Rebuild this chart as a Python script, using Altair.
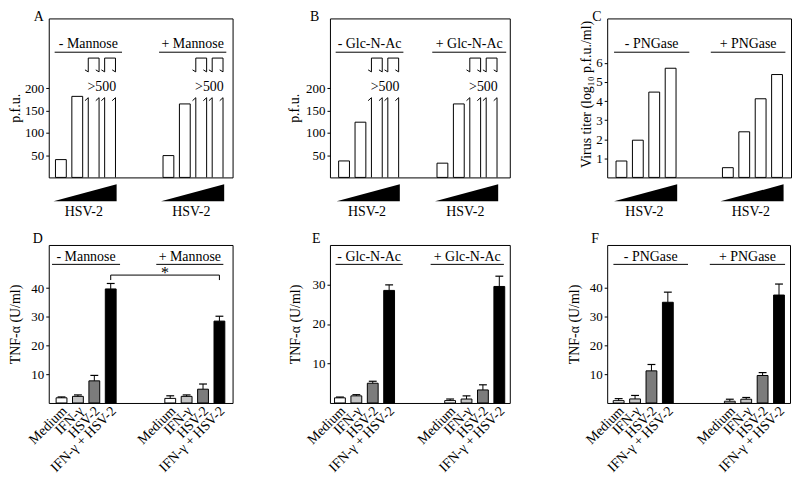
import altair as alt
import pandas as pd

FONT = "Liberation Serif"

# ---------------- data ----------------
# Top row: plaque assay, four increasing HSV-2 inputs per condition
A_GROUPS = ["- Mannose", "+ Mannose"]
A_MINUS = [40, 182, None, None]          # None = off scale (">500"), drawn as broken bar
A_PLUS = [49, 165, None, None]
B_GROUPS = ["- Glc-N-Ac", "+ Glc-N-Ac"]
B_MINUS = [37, 124, None, None]
B_PLUS = [32, 165, None, None]
C_GROUPS = ["- PNGase", "+ PNGase"]
C_MINUS = [0.86, 1.95, 4.47, 5.72]
C_PLUS = [0.51, 2.39, 4.12, 5.39]
OFF_SCALE_TEXT = ">500"
DOSE_TEXT = "HSV-2"

# Bottom row: TNF-alpha (U/ml), mean and upper error
TREATMENTS = ["Medium", "IFN-γ", "HSV-2", "IFN-γ + HSV-2"]
TREAT_FILLS = ["#ffffff", "#c4c4c4", "#7c7c7c", "#000000"]
D_GROUPS = ["- Mannose", "+ Mannose"]
D_MINUS = [1.8, 2.3, 7.7, 39.7]
D_MINUS_ERR = [0.3, 0.5, 1.9, 1.9]
D_PLUS = [1.6, 2.3, 4.8, 28.5]
D_PLUS_ERR = [0.9, 0.5, 1.8, 1.7]
E_GROUPS = ["- Glc-N-Ac", "+ Glc-N-Ac"]
E_MINUS = [1.3, 1.8, 5.0, 28.5]
E_MINUS_ERR = [0.2, 0.3, 0.5, 1.4]
E_PLUS = [0.6, 1.0, 3.3, 29.5]
E_PLUS_ERR = [0.4, 0.8, 1.3, 2.6]
F_GROUPS = ["- PNGase", "+ PNGase"]
F_MINUS = [0.8, 1.4, 11.1, 34.8]
F_MINUS_ERR = [0.7, 1.2, 2.2, 3.5]
F_PLUS = [0.6, 1.3, 9.5, 37.3]
F_PLUS_ERR = [0.7, 0.6, 1.0, 3.8]
SIGNIF_TEXT = "*"

# ---------------- layout ----------------
SLOT = 16.5      # px between neighbouring bars
HW = 0.33        # bar half width (slots)
CAP = 0.24       # error cap half width (slots)
BREAK_LOW, STUB_BOTTOM, STUB_TOP = 179, 237, 268   # broken-bar levels (p.f.u. axis)

PANELS = {
    "A": dict(w=185, h=160, ymax=357, starts=[0.74, 7.30], rules=[(0.36, 4.47), (6.73, 10.83)],
              ytitle="p.f.u.", yvals=[50, 100, 150, 200], tx=-26, ty=90, ldx=-15),
    "B": dict(w=181, h=160, ymax=357, starts=[0.86, 6.86], rules=[(0.35, 4.48), (6.24, 10.75)],
              ytitle="p.f.u.", yvals=[50, 100, 150, 200], tx=-29, ty=90, ldx=-20),
    "C": dict(w=185, h=160, ymax=8.33, starts=[0.87, 7.36], rules=[(0.42, 5.01), (6.32, 10.87)],
              ytitle="Virus titer (log₁₀ p.f.u./ml)", yvals=[1, 2, 3, 4, 5, 6], tx=-14, ty=76, ldx=-15),
    "D": dict(w=185, h=159, ymax=55, starts=[0.78, 7.41], rules=[(0.20, 4.35), (6.56, 10.65)],
              ytitle="TNF-α (U/ml)", yvals=[10, 20, 30, 40], tx=-26, ty=79.5, ldx=-16),
    "E": dict(w=181, h=159, ymax=40, starts=[0.61, 7.33], rules=[(0.34, 4.44), (6.14, 10.61)],
              ytitle="TNF-α (U/ml)", yvals=[10, 20, 30], tx=-28, ty=79.5, ldx=-18),
    "F": dict(w=184, h=159, ymax=54.6, starts=[0.70, 7.48], rules=[(0.38, 4.93), (6.26, 10.85)],
              ytitle="TNF-α (U/ml)", yvals=[10, 20, 30, 40], tx=-26, ty=79.5, ldx=-16),
}


def panel(key, groups, series, errs=None, fills=None, signif=None, row=0):
    p = PANELS[key]
    xs = alt.Scale(domain=[0, p["w"] / SLOT], nice=False, zero=False)
    ys = alt.Scale(domain=[0, p["ymax"]], nice=False, zero=False)
    yaxis = alt.Axis(values=p["yvals"], domain=False, grid=False, ticks=True, tickSize=3,
                     tickColor="black", labelFont=FONT, labelFontSize=13, labelColor="black",
                     labelPadding=2, title=p["ytitle"], titleFont=FONT, titleFontSize=14,
                     titleFontWeight="normal", titleColor="black", titleX=p["tx"], titleY=p["ty"],
                     titleAngle=270, titleAlign="center", titleBaseline="bottom")

    def X(f):
        return alt.X(f, type="quantitative", scale=xs, axis=None)

    def Y(f):
        return alt.Y(f, type="quantitative", scale=ys, axis=yaxis)

    per_px = p["ymax"] / p["h"]
    rows, broken = [], []
    for g, vals in enumerate(series):
        for i, v in enumerate(vals):
            c = p["starts"][g] + i
            if v is None:
                broken.append(c)
                continue
            rows.append(dict(g=g, i=i, c=c, x0=c - HW, x1=c + HW, v=v, base=0,
                             fill=fills[i] if fills else "#ffffff",
                             e=v + errs[g][i] if errs else v,
                             cl=c - CAP, cr=c + CAP, lx=c + 0.2, t=TREATMENTS[i]))
    bars = pd.DataFrame(rows)
    layers = [
        alt.Chart(bars).mark_bar(stroke="black", strokeWidth=1).encode(
            x=X("x0"), x2=alt.X2("x1"), y=Y("v"), y2=alt.Y2("base"),
            fill=alt.Fill("fill:N", scale=None))
    ]

    if errs:
        layers.append(alt.Chart(bars).mark_rule(color="black", strokeWidth=1).encode(
            x=X("c"), y=Y("v"), y2=alt.Y2("e")))
        layers.append(alt.Chart(bars).mark_rule(color="black", strokeWidth=1.2).encode(
            x=X("cl"), x2=alt.X2("cr"), y=Y("e")))

    if broken:
        segs = []
        for c in broken:
            for xe in (c - HW, c + HW):
                segs.append(dict(xa=xe, xb=xe, ya=0, yb=BREAK_LOW))
                segs.append(dict(xa=xe, xb=xe - 0.2, ya=BREAK_LOW, yb=BREAK_LOW - 3 * per_px))
                segs.append(dict(xa=xe, xb=xe, ya=STUB_BOTTOM, yb=STUB_TOP))
                segs.append(dict(xa=xe, xb=xe - 0.2, ya=STUB_BOTTOM, yb=STUB_BOTTOM + 2 * per_px))
            segs.append(dict(xa=c - HW, xb=c + HW, ya=STUB_TOP, yb=STUB_TOP))
        segs = pd.DataFrame(segs)
        layers.append(alt.Chart(segs).mark_rule(color="black", strokeWidth=1).encode(
            x=X("xa"), x2=alt.X2("xb"), y=Y("ya"), y2=alt.Y2("yb")))
        lab = pd.DataFrame([dict(c=(broken[k] + broken[k + 1]) / 2, t=OFF_SCALE_TEXT)
                            for k in range(0, len(broken), 2)])
        layers.append(alt.Chart(lab).mark_text(font=FONT, fontSize=14, color="black",
                                               baseline="alphabetic").encode(
            x=X("c"), y=alt.value(73), text="t:N"))

    # group headers with underline
    hy, uy = (30, 34) if row == 0 else (16, 19.5)
    hd = pd.DataFrame([dict(r0=r[0], r1=r[1], m=(r[0] + r[1]) / 2, t=groups[k])
                       for k, r in enumerate(p["rules"])])
    layers.append(alt.Chart(hd).mark_text(font=FONT, fontSize=14, color="black",
                                          baseline="alphabetic").encode(
        x=X("m"), y=alt.value(hy), text="t:N"))
    layers.append(alt.Chart(hd).mark_rule(color="black", strokeWidth=1).encode(
        x=X("r0"), x2=alt.X2("r1"), y=alt.value(uy)))

    if row == 0:
        wed = []
        for g in range(2):
            c0 = p["starts"][g]
            c3 = c0 + 3
            bot = -24 * per_px
            wed.append(dict(g=g, x=c0 - 0.45, y=bot, y2=bot))
            wed.append(dict(g=g, x=c3 + 0.4, y=-7 * per_px, y2=bot))
        wed = pd.DataFrame(wed)
        layers.append(alt.Chart(wed).mark_area(color="black", interpolate="linear").encode(
            x=X("x"), y=Y("y"), y2=alt.Y2("y2"), detail="g:N"))
        dl = pd.DataFrame([dict(m=p["starts"][g] + 1.4, t=DOSE_TEXT) for g in range(2)])
        layers.append(alt.Chart(dl).mark_text(font=FONT, fontSize=14, color="black",
                                              baseline="alphabetic").encode(
            x=X("m"), y=alt.value(p["h"] + 38.5), text="t:N"))
    else:
        layers.append(alt.Chart(bars).mark_text(font=FONT, fontSize=14, color="black",
                                                angle=315, align="right",
                                                baseline="middle").encode(
            x=X("lx"), y=alt.value(p["h"] + 6), text="t:N"))

    if signif:
        a = p["starts"][0] + 3
        b = p["starts"][1] + 3
        br = pd.DataFrame([dict(x0=a, x1=b, m=(a + b) / 2, t=signif)])
        drops = pd.DataFrame([dict(x=a), dict(x=b)])
        layers.append(alt.Chart(br).mark_rule(color="black", strokeWidth=1).encode(
            x=X("x0"), x2=alt.X2("x1"), y=alt.value(30.3)))
        layers.append(alt.Chart(drops).mark_rule(color="black", strokeWidth=1).encode(
            x=X("x"), y=alt.value(30.3), y2=alt.value(35.3)))
        layers.append(alt.Chart(br).mark_text(font=FONT, fontSize=16, color="black",
                                              baseline="alphabetic").encode(
            x=X("m"), y=alt.value(33), text="t:N"))

    # panel letter
    lt = pd.DataFrame([dict(t=key)])
    layers.append(alt.Chart(lt).mark_text(font=FONT, fontSize=14, color="black", align="left",
                                          baseline="alphabetic").encode(
        x=alt.value(p["ldx"]), y=alt.value(3 if row == 0 else -2), text="t:N"))

    return alt.layer(*layers).properties(width=p["w"], height=p["h"])


pA = panel("A", A_GROUPS, [A_MINUS, A_PLUS])
pB = panel("B", B_GROUPS, [B_MINUS, B_PLUS])
pC = panel("C", C_GROUPS, [C_MINUS, C_PLUS])
pD = panel("D", D_GROUPS, [D_MINUS, D_PLUS], errs=[D_MINUS_ERR, D_PLUS_ERR],
           fills=TREAT_FILLS, signif=SIGNIF_TEXT, row=1)
pE = panel("E", E_GROUPS, [E_MINUS, E_PLUS], errs=[E_MINUS_ERR, E_PLUS_ERR],
           fills=TREAT_FILLS, row=1)
pF = panel("F", F_GROUPS, [F_MINUS, F_PLUS], errs=[F_MINUS_ERR, F_PLUS_ERR],
           fills=TREAT_FILLS, row=1)

chart = alt.concat(pA, pB, pC, pD, pE, pF, columns=3,
                   spacing={"row": 68, "column": 98}, bounds="flush").properties(
    padding={"left": 0, "top": 0, "right": 0, "bottom": 0},
    background="white",
).configure_view(stroke="black", strokeWidth=1)

chart.save("out.html", embed_options={"renderer": "svg", "actions": False})
